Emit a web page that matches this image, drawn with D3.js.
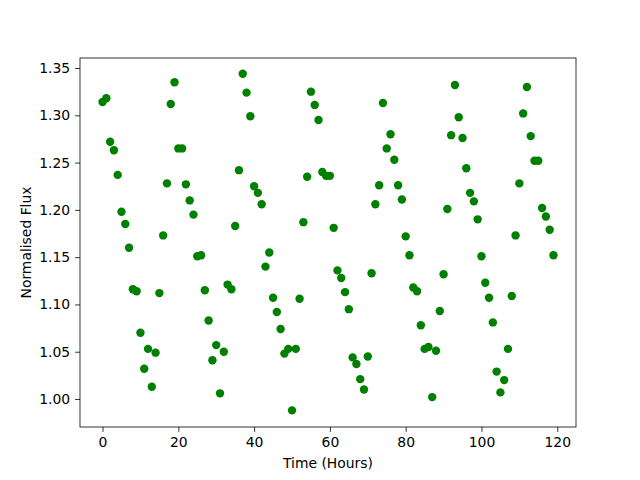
<!DOCTYPE html>
<html>
<head>
<meta charset="utf-8">
<script src="https://cdn.jsdelivr.net/npm/d3@7"></script>
<style>
  body { margin: 0; background: #fff; }
  text { font-family: "DejaVu Sans", sans-serif; }
</style>
</head>
<body>
<div id="chart"></div>
<script>
// normalised flux sampled once an hour
const hours = d3.range(0, 120);
const flux = [
  1.314, 1.318, 1.272, 1.263, 1.237, 1.198, 1.185, 1.160, 1.116, 1.114,
  1.070, 1.032, 1.053, 1.013, 1.049, 1.112, 1.173, 1.228, 1.312, 1.335,
  1.265, 1.265, 1.227, 1.210, 1.195, 1.151, 1.152, 1.115, 1.083, 1.041,
  1.057, 1.006, 1.050, 1.121, 1.116, 1.183, 1.242, 1.344, 1.324, 1.299,
  1.225, 1.218, 1.206, 1.140, 1.155, 1.107, 1.092, 1.074, 1.048, 1.053,
  0.988, 1.053, 1.106, 1.187, 1.235, 1.325, 1.311, 1.295, 1.240, 1.236,
  1.236, 1.181, 1.136, 1.128, 1.113, 1.095, 1.044, 1.037, 1.021, 1.010,
  1.045, 1.133, 1.206, 1.226, 1.313, 1.265, 1.280, 1.253, 1.226, 1.211,
  1.172, 1.152, 1.118, 1.114, 1.078, 1.053, 1.055, 1.002, 1.051, 1.093,
  1.132, 1.201, 1.279, 1.332, 1.298, 1.276, 1.244, 1.218, 1.209, 1.190,
  1.151, 1.123, 1.107, 1.081, 1.029, 1.007, 1.020, 1.053, 1.109, 1.173,
  1.228, 1.302, 1.330, 1.278, 1.252, 1.252, 1.202, 1.193, 1.179, 1.152
];
const xTicks = [0, 20, 40, 60, 80, 100, 120];
const yTicks = [1.00, 1.05, 1.10, 1.15, 1.20, 1.25, 1.30, 1.35];

const points = hours.map((h, i) => ({ hour: h, flux: flux[i] }));

const W = 640, H = 480;
const margin = { top: 58, right: 64, bottom: 53, left: 80 };
const width = W - margin.left - margin.right;
const height = H - margin.top - margin.bottom;

const svg = d3.select('#chart').append('svg')
  .attr('width', W)
  .attr('height', H);

const g = svg.append('g')
  .attr('transform', `translate(${margin.left},${margin.top})`);

// matplotlib style 5% padding on x
const xPad = (d3.max(hours) - d3.min(hours)) * 0.05;
const x = d3.scaleLinear()
  .domain([d3.min(hours) - xPad, d3.max(hours) + xPad])
  .range([0, width]);

const y = d3.scaleLinear()
  .domain([0.9704, 1.3606])
  .range([height, 0]);

g.selectAll('circle')
  .data(points)
  .enter()
  .append('circle')
  .attr('cx', d => x(d.hour))
  .attr('cy', d => y(d.flux))
  .attr('r', 4.2)
  .attr('fill', '#008000');

const xAxis = g.append('g')
  .attr('transform', `translate(0,${height})`)
  .call(d3.axisBottom(x).tickValues(xTicks).tickSize(4.9).tickPadding(4.9).tickFormat(d3.format('d')));

const yAxis = g.append('g')
  .call(d3.axisLeft(y).tickValues(yTicks).tickSize(4.9).tickPadding(4.9).tickFormat(d3.format('.2f')));

[xAxis, yAxis].forEach(a => {
  a.select('.domain').remove();
  a.selectAll('line').attr('stroke', '#000').attr('stroke-width', 0.8);
  a.selectAll('text').attr('font-size', '13.9px').attr('fill', '#000')
    .attr('font-family', '"DejaVu Sans", sans-serif');
});

// frame
g.append('rect')
  .attr('x', 0).attr('y', 0)
  .attr('width', width).attr('height', height)
  .attr('fill', 'none')
  .attr('stroke', '#000')
  .attr('stroke-width', 0.8);

// axis labels
g.append('text')
  .attr('x', width / 2)
  .attr('y', height + 41)
  .attr('text-anchor', 'middle')
  .attr('font-size', '13.9px')
  .text('Time (Hours)');

g.append('text')
  .attr('transform', 'rotate(-90)')
  .attr('x', -height / 2)
  .attr('y', -49)
  .attr('text-anchor', 'middle')
  .attr('font-size', '13.9px')
  .text('Normalised Flux');
</script>
</body>
</html>
